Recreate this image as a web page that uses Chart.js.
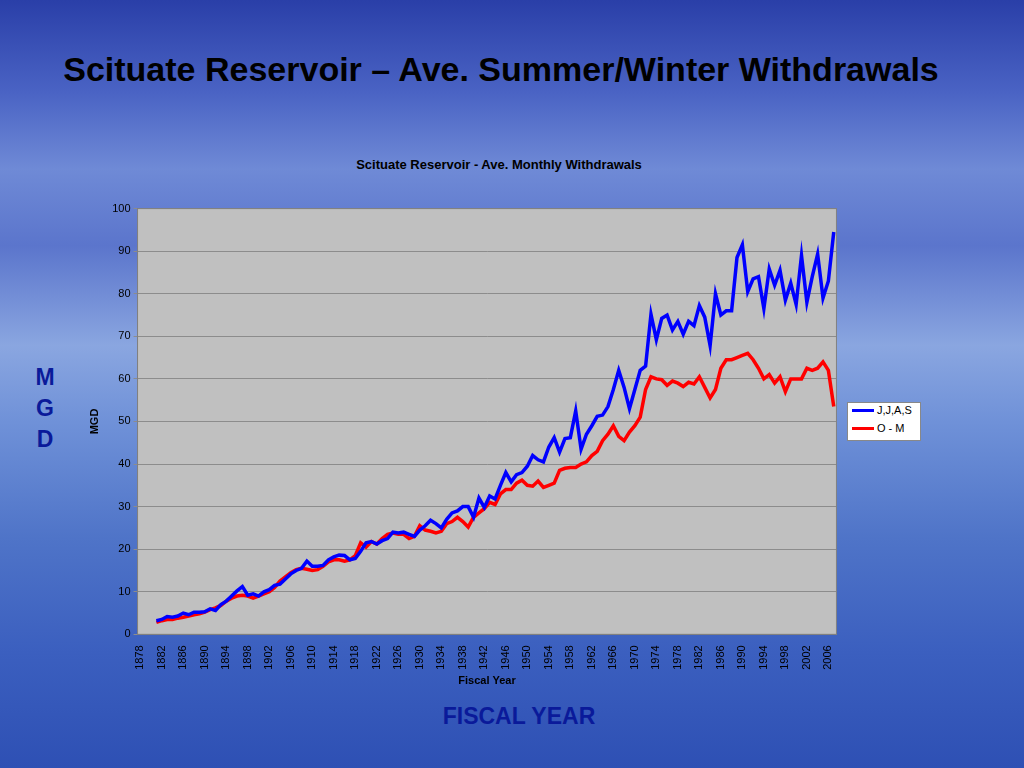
<!DOCTYPE html>
<html><head><meta charset="utf-8">
<script src="https://cdn.jsdelivr.net/npm/chart.js@4"></script>
<style>
body{margin:0;width:1024px;height:768px;overflow:hidden;font-family:"Liberation Sans",Arial,sans-serif;
background:linear-gradient(180deg,#2a3fa8 0%,#4a63c4 12%,#6f8ad6 22%,#5b75cc 32%,#8aa6e0 45%,#6f91d8 55%,#4f74c8 70%,#3b5fbf 85%,#2e50b4 100%);}
.t{position:absolute;white-space:nowrap}
</style></head><body>
<div class="t" style="left:0;width:1002px;text-align:center;top:50px;font-size:34px;font-weight:bold;color:#000">Scituate Reservoir – Ave. Summer/Winter Withdrawals</div>
<div class="t" style="left:0;width:998px;text-align:center;top:157px;font-size:13px;font-weight:bold;color:#000">Scituate Reservoir - Ave. Monthly Withdrawals</div>
<div class="t" style="left:34px;top:362px;font-size:23px;font-weight:bold;color:#0a1a9a;line-height:31px;text-align:center;width:22px">M<br>G<br>D</div>
<div class="t" style="left:0;width:1038px;text-align:center;top:703px;font-size:23px;font-weight:bold;color:#0a1a9a">FISCAL YEAR</div>
<div class="t" style="left:847px;top:402px;width:72px;height:37px;background:#fff;border:1px solid #888;font-size:11px">
 <div style="position:absolute;left:4px;top:6px;width:22px;height:3px;background:#0000ff"></div><div style="position:absolute;left:29px;top:1px">J,J,A,S</div>
 <div style="position:absolute;left:4px;top:24px;width:22px;height:3px;background:#ff0000"></div><div style="position:absolute;left:29px;top:19px">O - M</div>
</div>
<div style="position:absolute;left:60px;top:199px;width:790px;height:493px"><canvas id="c"></canvas></div>
<script>
const years=[];for(let y=1878;y<=2007;y++)years.push(String(y));
const jjas=[3.2,3.5,4.2,4.0,4.3,5.0,4.6,5.2,5.2,5.3,6.0,5.6,7.0,7.8,9.0,10.2,11.2,9.2,9.5,9.0,10.0,10.5,11.5,11.8,13.0,14.2,15.0,15.5,17.2,16.0,16.0,16.2,17.5,18.2,18.6,18.5,17.5,17.8,19.5,21.5,21.8,21.2,22.0,22.5,24.0,23.8,24.0,23.5,23.0,24.5,25.5,26.8,26.0,25.0,27.0,28.5,29.0,30.0,30.0,27.5,32.0,29.8,32.5,31.8,35.0,38.0,35.8,37.5,38.0,39.5,42.0,41.0,40.5,44.0,46.2,42.8,46.0,46.2,52.5,43.5,47.0,49.0,51.2,51.5,53.5,57.5,62.0,58.0,53.0,57.5,62.0,63.0,75.2,69.2,74.2,75.0,71.5,73.5,70.5,73.5,72.5,77.2,74.5,67.8,80.0,75.0,76.0,76.0,88.5,91.5,80.5,83.5,84.0,76.5,85.8,82.0,85.5,78.5,82.5,77.5,89.0,78.0,84.0,89.3,79.0,83.0,94.5];
const om=[2.8,3.2,3.5,3.5,3.8,4.0,4.3,4.6,4.8,5.2,5.8,6.2,6.8,7.8,8.5,9.0,9.2,9.0,8.5,9.0,9.5,10.0,11.0,12.5,13.5,14.5,15.2,15.5,15.3,15.0,15.2,16.0,17.0,17.5,17.5,17.2,17.5,18.5,21.5,20.5,21.8,21.2,22.5,23.5,23.8,23.5,23.5,22.5,23.0,25.5,24.5,24.2,23.8,24.2,26.0,26.5,27.5,26.5,25.2,27.5,28.5,29.5,31.0,30.5,33.0,34.0,34.0,35.5,36.2,35.0,34.8,36.0,34.5,35.0,35.5,38.5,39.0,39.2,39.2,40.0,40.5,42.0,43.0,45.5,47.0,49.0,46.5,45.5,47.5,49.0,51.0,57.5,60.5,60.0,59.8,58.5,59.5,59.0,58.2,59.2,58.8,60.5,58.0,55.5,57.5,62.5,64.5,64.5,65.0,65.5,66.0,64.5,62.5,60.0,61.0,59.0,60.5,57.0,60.0,60.0,60.0,62.5,62.0,62.5,64.0,62.0,53.5];
const lead=[null,null,null];
const bgPlugin={id:'bg',beforeDraw(ch){const a=ch.chartArea,c=ch.ctx;c.save();c.fillStyle='#c0c0c0';c.fillRect(a.left,a.top,a.width,a.height);c.restore();},
 afterDraw(ch){const a=ch.chartArea,c=ch.ctx;c.save();c.strokeStyle='#808080';c.lineWidth=1;c.strokeRect(a.left,a.top,a.width,a.height);c.restore();}};
new Chart(document.getElementById('c'),{type:'line',
 data:{labels:years,datasets:[
  {label:'J,J,A,S',data:lead.concat(jjas),borderColor:'#0000ff',borderWidth:3.5,pointRadius:0,tension:0},
  {label:'O - M',data:lead.concat(om),borderColor:'#ff0000',borderWidth:3.5,pointRadius:0,tension:0}]},
 plugins:[bgPlugin],
 options:{responsive:true,maintainAspectRatio:false,animation:false,
  layout:{padding:{left:24,right:10,top:8,bottom:0}},
  plugins:{legend:{display:false},tooltip:{enabled:false}},
  scales:{
   x:{offset:true,grid:{display:false},border:{color:'#808080'},
      ticks:{autoSkip:false,maxRotation:90,minRotation:90,color:'#000',font:{size:11,family:'Liberation Sans'},
        callback:function(v,i){return ((i)%4===0)?this.getLabelForValue(v):'';}},
      title:{display:true,text:'Fiscal Year',color:'#000',font:{size:11,weight:'bold',family:'Liberation Sans'},padding:{top:2}}},
   y:{min:0,max:100,ticks:{stepSize:10,color:'#000',font:{size:11,family:'Liberation Sans'}},
      grid:{color:'#8c8c8c',drawTicks:true,tickLength:4},border:{color:'#808080'},
      title:{display:true,text:'MGD',color:'#000',font:{size:11,weight:'bold',family:'Liberation Sans'},padding:{bottom:8}}}
  }}});
</script></body></html>
